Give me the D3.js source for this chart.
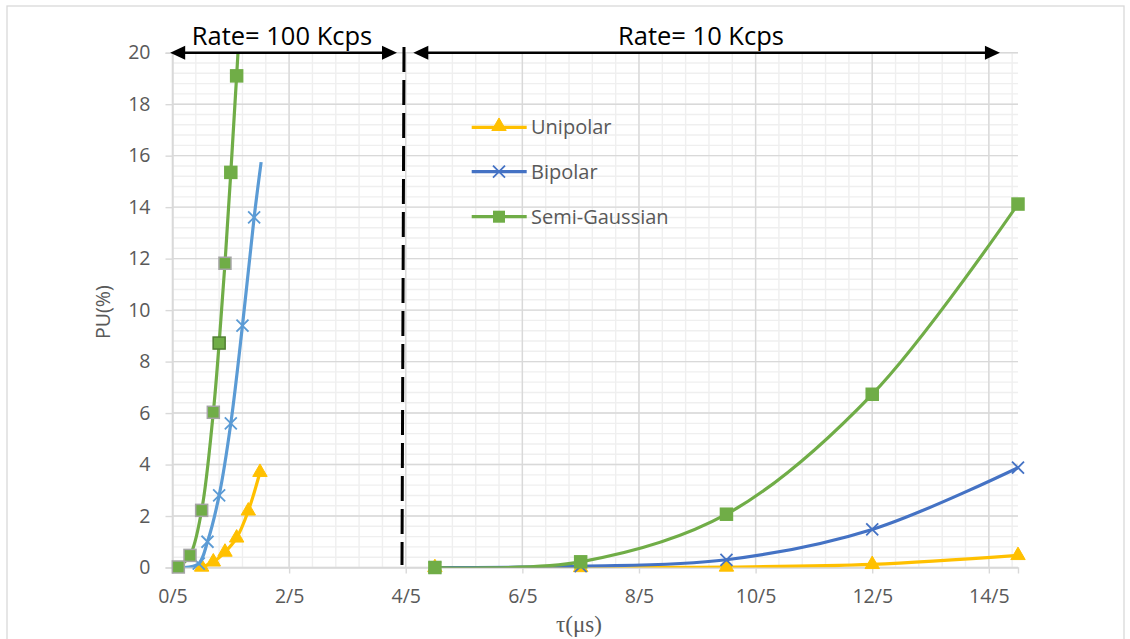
<!DOCTYPE html>
<html><head><meta charset="utf-8">
<script src="https://cdn.jsdelivr.net/npm/d3@7"></script>
<style>body{margin:0;background:#fff}svg{display:block}</style>
</head><body>
<svg id="c" width="1130" height="639"></svg>
<script>
// ---- data ----
const xTicks = [0.5, 2.5, 4.5, 6.5, 8.5, 10.5, 12.5, 14.5];
const xTickLabels = ["0/5", "2/5", "4/5", "6/5", "8/5", "10/5", "12/5", "14/5"];
const yTicks = [0, 2, 4, 6, 8, 10, 12, 14, 16, 18, 20];
const seriesNames = ["Unipolar", "Bipolar", "Semi-Gaussian"];

// Rate = 100 Kcps (left group)
const uniLeftX = [1.0, 1.2, 1.4, 1.6, 1.8, 2.0];
const uniLeftY = [0.02, 0.22, 0.6, 1.15, 2.2, 3.7];
const bipLeftX = [0.7, 0.95, 1.1, 1.3, 1.5, 1.7, 1.9, 2.02];
const bipLeftY = [0.0, 0.15, 1.0, 2.8, 5.6, 9.4, 13.6, 15.75];
const gauLeftX = [0.6, 0.8, 1.0, 1.2, 1.3, 1.4, 1.5, 1.6, 1.7];
const gauLeftY = [0.02, 0.47, 2.22, 6.03, 8.72, 11.82, 15.35, 19.1, 23.0];

// Rate = 10 Kcps (right group)
const rightX = [5, 7.5, 10, 12.5, 15];
const uniRightY = [0.0, 0.0, 0.02, 0.12, 0.47];
const bipRightY = [0.0, 0.05, 0.3, 1.48, 3.88];
const gauRightY = [0.0, 0.22, 2.07, 6.73, 14.12];

// annotations (data units)
const dividerX = 4.47;
const arrowLeft = [0.46, 4.35];
const arrowRight = [4.63, 14.69];
const rateLabels = ["Rate= 100 Kcps", "Rate= 10 Kcps"];

// ---- layout ----
const svg = d3.select("#c");
const L = 172.5, R = 1018, T = 52.7, B = 567.5;
const x = d3.scaleLinear().domain([0.5, 15]).range([L, R]);
const y = d3.scaleLinear().domain([0, 20]).range([B, T]);
const C = {uni: "#FFC000", bip: "#4472C4", bipL: "#5B9BD5", gau: "#70AD47"};
const font = "'Open Sans', 'Noto Sans', sans-serif";

// chart border
svg.append("rect").attr("x", 7).attr("y", 6).attr("width", 1117).attr("height", 645)
  .attr("fill", "none").attr("stroke", "#D9D9D9").attr("stroke-width", 1.3);

// gridlines
const g = svg.append("g");
const minorX = d3.range(0, 37).map(i => 0.5 + 0.4 * i);
const minorY = d3.range(0, 51).map(i => 0.4 * i);
g.selectAll(".mx").data(minorX).join("line")
  .attr("x1", d => x(d)).attr("x2", d => x(d)).attr("y1", T).attr("y2", B)
  .attr("stroke", "#EFEFEF").attr("stroke-width", 1.4);
g.selectAll(".my").data(minorY).join("line")
  .attr("x1", L).attr("x2", R).attr("y1", d => y(d)).attr("y2", d => y(d))
  .attr("stroke", "#EFEFEF").attr("stroke-width", 1.4);
g.selectAll(".Mx").data(xTicks).join("line")
  .attr("x1", d => x(d)).attr("x2", d => x(d)).attr("y1", T).attr("y2", B)
  .attr("stroke", "#D9D9D9").attr("stroke-width", 1.4);
g.selectAll(".My").data(yTicks).join("line")
  .attr("x1", L).attr("x2", R).attr("y1", d => y(d)).attr("y2", d => y(d))
  .attr("stroke", "#D9D9D9").attr("stroke-width", 1.4);

// axes
const xAxis = d3.axisBottom(x).tickValues(xTicks).tickFormat((d, i) => xTickLabels[i])
  .tickSize(6).tickPadding(16);
const yAxis = d3.axisLeft(y).tickValues(yTicks).tickSize(7).tickPadding(15);
const gx = svg.append("g").attr("transform", `translate(0,${B})`).call(xAxis);
const gy = svg.append("g").attr("transform", `translate(${L},0)`).call(yAxis);
[gx, gy].forEach(a => {
  a.select(".domain").attr("stroke", "#D9D9D9").attr("stroke-width", 1.4);
  a.selectAll(".tick line").attr("stroke", "#D9D9D9").attr("stroke-width", 1.4);
  a.selectAll(".tick text").attr("fill", "#595959").style("font-family", font).style("font-size", "19.5px");
});

// axis titles
svg.append("text").attr("transform", `translate(110,${(T + B) / 2 + 2}) rotate(-90)`)
  .attr("text-anchor", "middle").attr("fill", "#595959")
  .style("font-family", font).style("font-size", "19.5px").text("PU(%)");
svg.append("text").attr("x", 579).attr("y", 632).attr("text-anchor", "middle")
  .attr("fill", "#595959").style("font-family", "'Liberation Serif', 'DejaVu Serif', serif")
  .style("font-size", "23px").text("τ(μs)");

// clip
svg.append("clipPath").attr("id", "clip").append("rect")
  .attr("x", L).attr("y", T).attr("width", R - L).attr("height", B - T);

const line = d3.line().x(d => x(d[0])).y(d => y(d[1])).curve(d3.curveCatmullRom.alpha(0.5));
const zip = (xs, ys) => xs.map((v, i) => [v, ys[i]]);

const plot = svg.append("g");
function drawLine(pts, color) {
  plot.append("path").attr("d", line(pts)).attr("fill", "none").attr("stroke", color)
    .attr("stroke-width", 3.2).attr("clip-path", "url(#clip)").attr("stroke-linejoin", "round");
}
const tri = d3.symbol().type(d3.symbolTriangle).size(90);
function drawTri(pts, color) {
  plot.append("g").selectAll("path").data(pts).join("path")
    .attr("transform", d => `translate(${x(d[0])},${y(d[1])})`).attr("d", tri())
    .attr("fill", color).attr("stroke", color).attr("stroke-width", 1);
}
function drawX(pts, color) {
  plot.append("g").selectAll("path").data(pts).join("path")
    .attr("d", d => { const cx = x(d[0]), cy = y(d[1]), s = 6;
      return `M${cx - s},${cy - s}L${cx + s},${cy + s}M${cx - s},${cy + s}L${cx + s},${cy - s}`; })
    .attr("stroke", color).attr("stroke-width", 1.8).attr("fill", "none");
}
function drawSq(pts, color, stroke) {
  plot.append("g").selectAll("rect").data(pts).join("rect")
    .attr("x", d => x(d[0]) - 6).attr("y", d => y(d[1]) - 6).attr("width", 12).attr("height", 12)
    .attr("fill", color).attr("stroke", (d, i) => stroke ? stroke(i) : color).attr("stroke-width", 1.5);
}

// left group
const uL = zip(uniLeftX, uniLeftY), bL = zip(bipLeftX, bipLeftY), gL = zip(gauLeftX, gauLeftY);
drawLine(uL, C.uni); drawTri(uL, C.uni);
drawLine(bL, C.bipL); drawX(bL.slice(1, -1), C.bipL);
drawLine(gL, C.gau);
drawSq(gL.filter(d => d[1] <= 20), C.gau, i => (i === 4 ? "#507E32" : (i <= 5 ? "#A5A5A5" : C.gau)));

// right group
const uR = zip(rightX, uniRightY), bR = zip(rightX, bipRightY), gR = zip(rightX, gauRightY);
drawLine(uR, C.uni); drawTri(uR, C.uni);
drawLine(bR, C.bip); drawX(bR, C.bip);
drawLine(gR, C.gau); drawSq(gR, C.gau);

// divider
svg.append("line").attr("x1", x(dividerX)).attr("x2", x(dividerX) - 2).attr("y1", 47).attr("y2", 565)
  .attr("stroke", "#000").attr("stroke-width", 3).attr("stroke-dasharray", "25,8");

// arrows
function arrow(x1, x2, yy) {
  svg.append("line").attr("x1", x(x1) + 10).attr("x2", x(x2) - 10).attr("y1", yy).attr("y2", yy)
    .attr("stroke", "#000").attr("stroke-width", 2.5);
  svg.append("path").attr("d", `M${x(x1)},${yy}L${x(x1) + 15},${yy - 7}L${x(x1) + 15},${yy + 7}Z`).attr("fill", "#000");
  svg.append("path").attr("d", `M${x(x2)},${yy}L${x(x2) - 15},${yy - 7}L${x(x2) - 15},${yy + 7}Z`).attr("fill", "#000");
}
arrow(arrowLeft[0], arrowLeft[1], 52.7);
arrow(arrowRight[0], arrowRight[1], 52.7);
svg.append("text").attr("x", 282).attr("y", 45).attr("text-anchor", "middle")
  .style("font-family", font).style("font-size", "25.5px").attr("fill", "#000").text(rateLabels[0]);
svg.append("text").attr("x", 701).attr("y", 45).attr("text-anchor", "middle")
  .style("font-family", font).style("font-size", "25.5px").attr("fill", "#000").text(rateLabels[1]);

// legend
const legY = [127.3, 171.7, 216.7];
const legColors = [C.uni, C.bip, C.gau];
seriesNames.forEach((n, i) => {
  const yy = legY[i];
  svg.append("line").attr("x1", 471.7).attr("x2", 526.7).attr("y1", yy).attr("y2", yy)
    .attr("stroke", legColors[i]).attr("stroke-width", 3.2);
  const cx = 499, c = legColors[i];
  if (i === 0) svg.append("path").attr("transform", `translate(${cx},${yy - 1})`).attr("d", tri()).attr("fill", c).attr("stroke", c);
  if (i === 1) svg.append("path").attr("d", `M${cx - 6},${yy - 6}L${cx + 6},${yy + 6}M${cx - 6},${yy + 6}L${cx + 6},${yy - 6}`)
    .attr("stroke", c).attr("stroke-width", 1.8);
  if (i === 2) svg.append("rect").attr("x", cx - 6).attr("y", yy - 6).attr("width", 12).attr("height", 12).attr("fill", c);
  svg.append("text").attr("x", 531).attr("y", yy).attr("dy", "0.35em").attr("fill", "#595959")
    .style("font-family", font).style("font-size", "20px").text(n);
});
</script>
</body></html>
